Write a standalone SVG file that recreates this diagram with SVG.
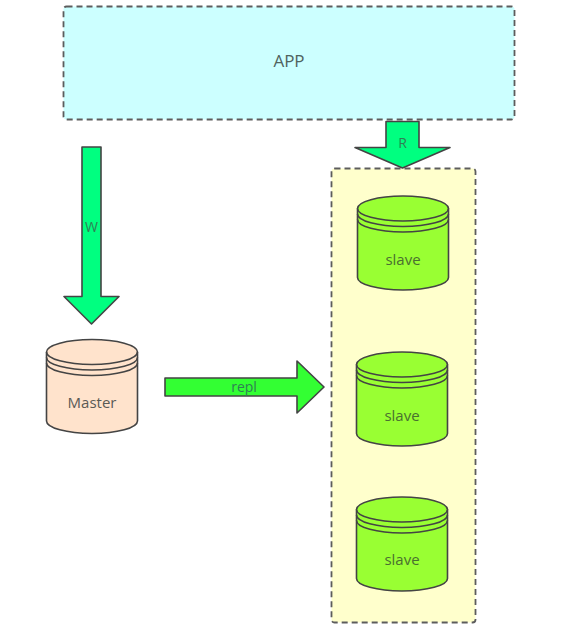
<svg xmlns="http://www.w3.org/2000/svg" width="582" height="627" viewBox="0 0 582 627">
<defs>
<style>
text{font-family:"Open Sans","Noto Sans","Liberation Sans",sans-serif;fill:#4f6360;text-anchor:middle}
.s{stroke:#444;stroke-width:1.6;stroke-linejoin:round}
.d{stroke:#5c5c5c;stroke-width:1.8;stroke-dasharray:6 4}
.l{fill:none;stroke:#444;stroke-width:1.6}
.sl{fill:#4a7030}
.ar{fill:#2f7f55}
</style>
<g id="cyl">
<path class="s" d="M0 0V69A45.500 12.500 0 0 0 91 69V0A45.500 12.500 0 0 0 0 0Z"/>
<path class="l" d="M0 0A45.500 12.500 0 0 0 91 0M0 5.500A45.500 12.500 0 0 0 91 5.500M0 11A45.500 12.500 0 0 0 91 11"/>
</g>
</defs>
<g id="app"><rect class="d" x="63.500" y="6.500" width="451" height="113" rx="3" fill="#ccffff"/><text x="289" y="67" font-size="17">APP</text></g>
<g id="group"><rect class="d" x="331.500" y="168.500" width="144" height="454" rx="3" fill="#ffffcc"/></g>
<g id="master"><use href="#cyl" x="46.500" y="352" fill="#ffe3cc"/><text x="92" y="408" font-size="15" style="fill:#5a5a55">Master</text></g>
<g id="slave1"><use href="#cyl" x="357.500" y="208.500" fill="#99ff33"/><text class="sl" x="403" y="265" font-size="15">slave</text></g>
<g id="slave2"><use href="#cyl" x="356.500" y="364.500" fill="#99ff33"/><text class="sl" x="402" y="421" font-size="15">slave</text></g>
<g id="slave3"><use href="#cyl" x="356.500" y="509.500" fill="#99ff33"/><text class="sl" x="402" y="565" font-size="15">slave</text></g>
<g id="connectors">
<g id="arrow-w"><path class="s" fill="#00ff80" d="M82 147H101V296.500H119L91.500 324L64 296.500H82Z"/><text class="ar" x="91.500" y="232" font-size="14">W</text></g>
<g id="arrow-r"><path class="s" fill="#00ff80" d="M386 121.500H419V147.500H450L402.500 168L355 147.500H386Z"/><text class="ar" x="402.500" y="148" font-size="14">R</text></g>
<g id="arrow-repl"><path class="s" fill="#33ff33" d="M165 378H297V361L324 387L297 413V396H165Z"/><text class="ar" x="244" y="392" font-size="14">repl</text></g>
</g>
</svg>
